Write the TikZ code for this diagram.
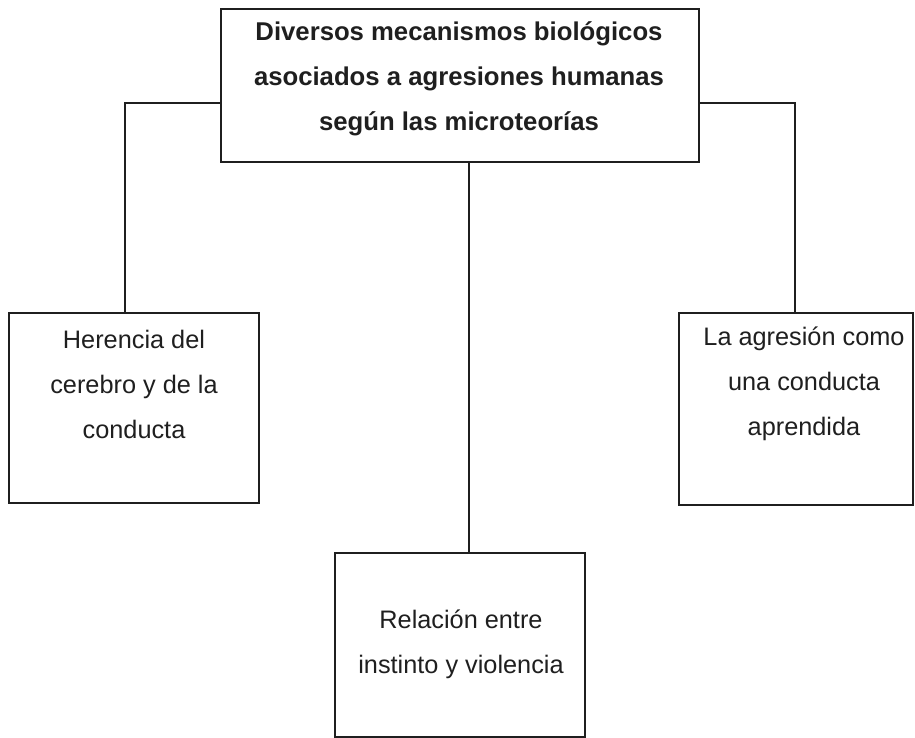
\documentclass[tikz,border=0pt]{standalone}
\usepackage{fontspec}
\setmainfont{Liberation Sans}
\begin{document}
\begin{tikzpicture}[x=1pt,y=-1pt,
  box/.style={draw=black!88, line width=1.3pt, inner sep=0pt, outer sep=0pt},
  txt/.style={align=center, inner sep=0pt, text=black!88, font=\fontsize{25.3}{45}\selectfont},
  conn/.style={draw=black!88, line width=1.3pt}]
\useasboundingbox (0,0) rectangle (915,738);
\fill[white] (0,0) rectangle (915,738);
% boxes
\node[box, minimum width=478pt, minimum height=153pt] (top) at (460,85.5) {};
\node[box, minimum width=250pt, minimum height=190pt] (left) at (134,408) {};
\node[box, minimum width=234pt, minimum height=192pt] (right) at (796,409) {};
\node[box, minimum width=250pt, minimum height=184pt] (bot) at (460,645) {};
% texts
\node[txt, font=\fontsize{25.7}{45}\selectfont\bfseries] (toptxt) at (459,79) {Diversos mecanismos biológicos\\asociados a agresiones humanas\\según las microteorías};
\node[txt] (lefttxt) at (134,384) {Herencia del\\cerebro y de la\\conducta};
\node[txt] (righttxt) at (804,384) {La agresión como\\una conducta\\aprendida};
\node[txt] (bottxt) at (461,644) {Relación entre\\instinto y violencia};
% connectors
\coordinate (ly) at (0,103);
\coordinate (lx) at (125,0);
\coordinate (rx) at (795,0);
\coordinate (mx) at (469,0);
\draw[conn] (top.west |- ly) -| (left.north -| lx);
\draw[conn] (top.east |- ly) -| (right.north -| rx);
\draw[conn] (top.south -| mx) -- (bot.north -| mx);
\end{tikzpicture}
\end{document}
